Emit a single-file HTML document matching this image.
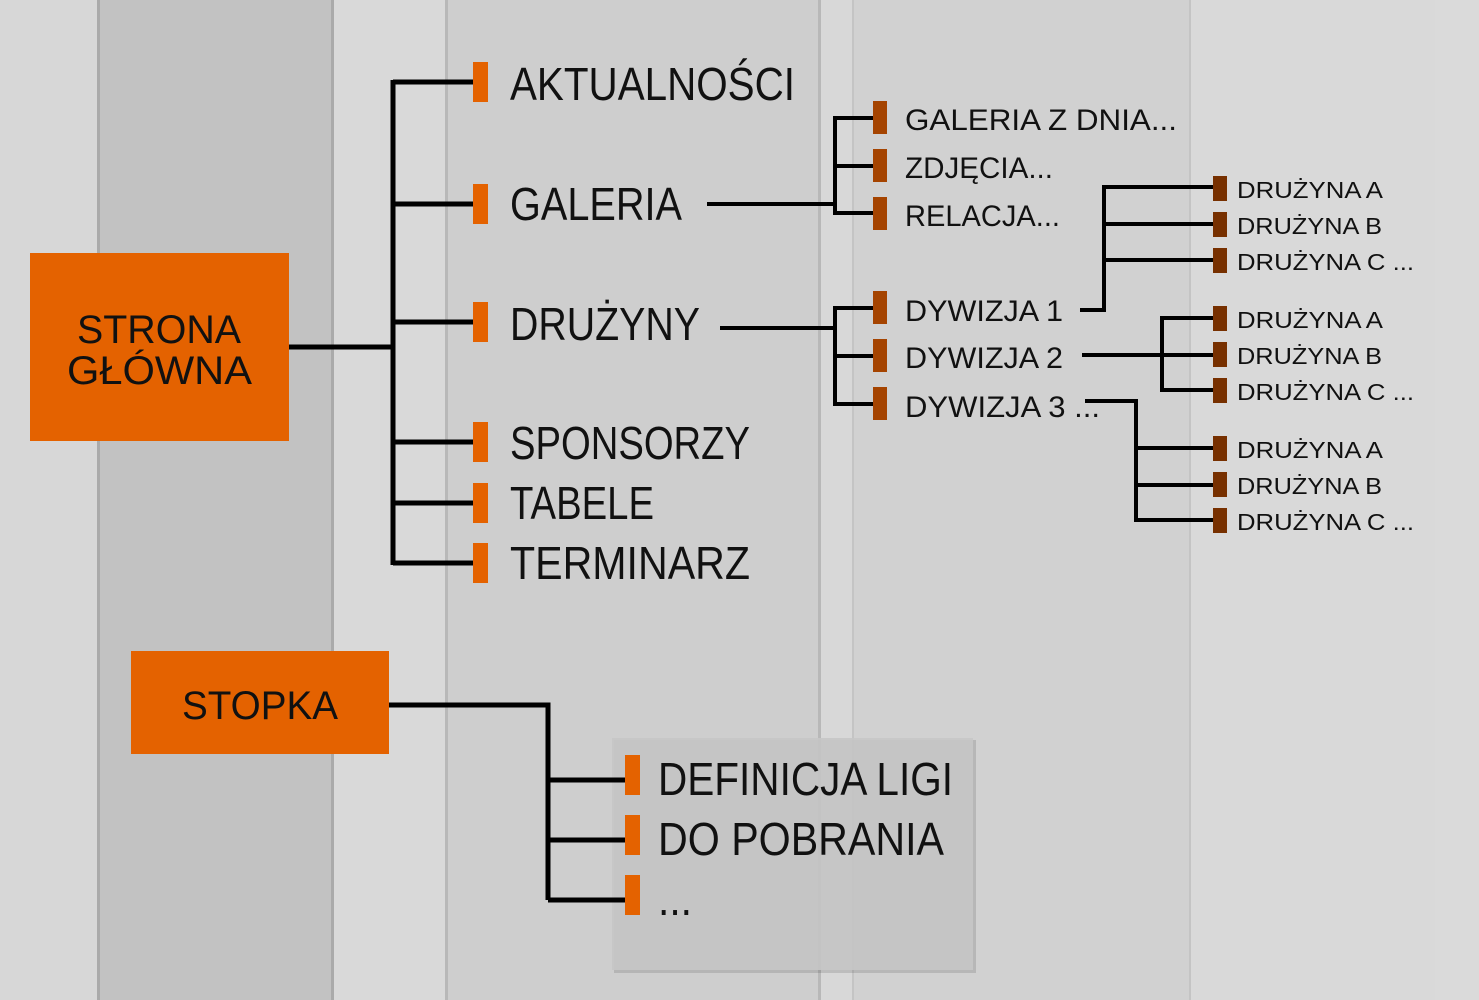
<!DOCTYPE html>
<html><head><meta charset="utf-8"><style>
html,body{margin:0;padding:0;}
body{width:1479px;height:1000px;overflow:hidden;background:#d8d8d8;}
svg{display:block;}
text{font-family:"Liberation Sans",sans-serif;fill:#111;}
</style></head><body>
<svg width="1479" height="1000" viewBox="0 0 1479 1000" xmlns="http://www.w3.org/2000/svg">
<defs>
<linearGradient id="edge" x1="0" x2="1"><stop offset="0" stop-color="#000" stop-opacity="0.18"/><stop offset="1" stop-color="#000" stop-opacity="0"/></linearGradient>
</defs>
<rect x="0" y="0" width="1479" height="1000" fill="#d7d7d7"/>
<rect x="97" y="0" width="236" height="1000" fill="#c2c2c2"/>
<rect x="333" y="0" width="112" height="1000" fill="#d9d9d9"/>
<rect x="445" y="0" width="375" height="1000" fill="#cecece"/>
<rect x="820" y="0" width="32" height="1000" fill="#d8d8d8"/>
<rect x="852" y="0" width="338" height="1000" fill="#d1d1d1"/>
<rect x="1190" y="0" width="245" height="1000" fill="#d9d9d9"/>
<rect x="1435" y="0" width="44" height="1000" fill="#dadada"/>
<rect x="97" y="0" width="3" height="1000" fill="#aaa"/>
<rect x="331" y="0" width="3" height="1000" fill="#aaa"/>
<rect x="445" y="0" width="3" height="1000" fill="#b8b8b8"/>
<rect x="818" y="0" width="3" height="1000" fill="#b8b8b8"/>
<rect x="852" y="0" width="2" height="1000" fill="#c4c4c4"/>
<rect x="1189" y="0" width="2" height="1000" fill="#c4c4c4"/>

<!-- footer panel -->
<rect x="614" y="740" width="362" height="233" fill="#000" opacity="0.12"/>
<rect x="612" y="738" width="361" height="232" fill="#c6c6c6" opacity="0.9"/>

<!-- main boxes -->
<rect x="30" y="253" width="259" height="188" fill="#e46200"/>
<rect x="131" y="651" width="258" height="103" fill="#e46200"/>
<text x="77" y="343" font-size="40" textLength="164" lengthAdjust="spacingAndGlyphs">STRONA</text>
<text x="67" y="384" font-size="40" textLength="185" lengthAdjust="spacingAndGlyphs">GŁÓWNA</text>
<text x="182" y="719" font-size="40" textLength="156" lengthAdjust="spacingAndGlyphs">STOPKA</text>

<g stroke="#000" fill="none" stroke-width="5">
<path d="M289 347H393M393 80V565M393 82H474M393 204H474M393 322H474M393 442H474M393 503H474M393 563H474"/>
<path d="M389 705H548V900M548 780H626M548 840H626M548 900H626"/>
</g>
<g stroke="#000" fill="none" stroke-width="4">
<path d="M707 204H835M835 116V215M835 118H874M835 166H874M835 213H874"/>
<path d="M720 328H835M835 306V406M835 308H874M835 356H874M835 404H874"/>
<path d="M1080 310H1104V185M1104 187H1214M1104 224H1214M1104 260H1214"/>
<path d="M1082 355H1214M1162 316V392M1162 318H1214M1162 390H1214"/>
<path d="M1085 401H1136V522M1136 448H1214M1136 485H1214M1136 520H1214"/>
</g>

<g fill="#e46200">
<rect x="473" y="62" width="15" height="40"/>
<rect x="473" y="184" width="15" height="40"/>
<rect x="473" y="302" width="15" height="40"/>
<rect x="473" y="422" width="15" height="40"/>
<rect x="473" y="483" width="15" height="40"/>
<rect x="473" y="543" width="15" height="40"/>
<rect x="625" y="755" width="15" height="40"/>
<rect x="625" y="815" width="15" height="40"/>
<rect x="625" y="875" width="15" height="40"/>
</g>
<g fill="#a54400">
<rect x="873" y="101" width="14" height="33"/>
<rect x="873" y="149" width="14" height="33"/>
<rect x="873" y="197" width="14" height="33"/>
<rect x="873" y="291" width="14" height="33"/>
<rect x="873" y="339" width="14" height="33"/>
<rect x="873" y="387" width="14" height="33"/>
</g>
<g fill="#773000">
<rect x="1213" y="176" width="14" height="25"/>
<rect x="1213" y="212" width="14" height="25"/>
<rect x="1213" y="248" width="14" height="25"/>
<rect x="1213" y="306" width="14" height="25"/>
<rect x="1213" y="342" width="14" height="25"/>
<rect x="1213" y="378" width="14" height="25"/>
<rect x="1213" y="436" width="14" height="25"/>
<rect x="1213" y="472" width="14" height="25"/>
<rect x="1213" y="508" width="14" height="25"/>
</g>

<g font-size="46">
<text x="510" y="100" textLength="285" lengthAdjust="spacingAndGlyphs">AKTUALNOŚCI</text>
<text x="510" y="220" textLength="172" lengthAdjust="spacingAndGlyphs">GALERIA</text>
<text x="510" y="340" textLength="190" lengthAdjust="spacingAndGlyphs">DRUŻYNY</text>
<text x="510" y="459" textLength="240" lengthAdjust="spacingAndGlyphs">SPONSORZY</text>
<text x="510" y="519" textLength="144" lengthAdjust="spacingAndGlyphs">TABELE</text>
<text x="510" y="579" textLength="240" lengthAdjust="spacingAndGlyphs">TERMINARZ</text>
<text x="658" y="795" textLength="295" lengthAdjust="spacingAndGlyphs">DEFINICJA LIGI</text>
<text x="658" y="855" textLength="286" lengthAdjust="spacingAndGlyphs">DO POBRANIA</text>
<text x="658" y="915" textLength="34" lengthAdjust="spacingAndGlyphs">...</text>
</g>
<g font-size="30">
<text x="905" y="130" textLength="272" lengthAdjust="spacingAndGlyphs">GALERIA Z DNIA...</text>
<text x="905" y="178" textLength="148" lengthAdjust="spacingAndGlyphs">ZDJĘCIA...</text>
<text x="905" y="226" textLength="155" lengthAdjust="spacingAndGlyphs">RELACJA...</text>
<text x="905" y="321" textLength="158" lengthAdjust="spacingAndGlyphs">DYWIZJA 1</text>
<text x="905" y="368" textLength="158" lengthAdjust="spacingAndGlyphs">DYWIZJA 2</text>
<text x="905" y="417" textLength="195" lengthAdjust="spacingAndGlyphs">DYWIZJA 3 ...</text>
</g>
<g font-size="23">
<text x="1237" y="198" textLength="146" lengthAdjust="spacingAndGlyphs">DRUŻYNA A</text>
<text x="1237" y="234" textLength="145" lengthAdjust="spacingAndGlyphs">DRUŻYNA B</text>
<text x="1237" y="270" textLength="177" lengthAdjust="spacingAndGlyphs">DRUŻYNA C ...</text>
<text x="1237" y="328" textLength="146" lengthAdjust="spacingAndGlyphs">DRUŻYNA A</text>
<text x="1237" y="364" textLength="145" lengthAdjust="spacingAndGlyphs">DRUŻYNA B</text>
<text x="1237" y="400" textLength="177" lengthAdjust="spacingAndGlyphs">DRUŻYNA C ...</text>
<text x="1237" y="458" textLength="146" lengthAdjust="spacingAndGlyphs">DRUŻYNA A</text>
<text x="1237" y="494" textLength="145" lengthAdjust="spacingAndGlyphs">DRUŻYNA B</text>
<text x="1237" y="530" textLength="177" lengthAdjust="spacingAndGlyphs">DRUŻYNA C ...</text>
</g>
</svg>
</body></html>
